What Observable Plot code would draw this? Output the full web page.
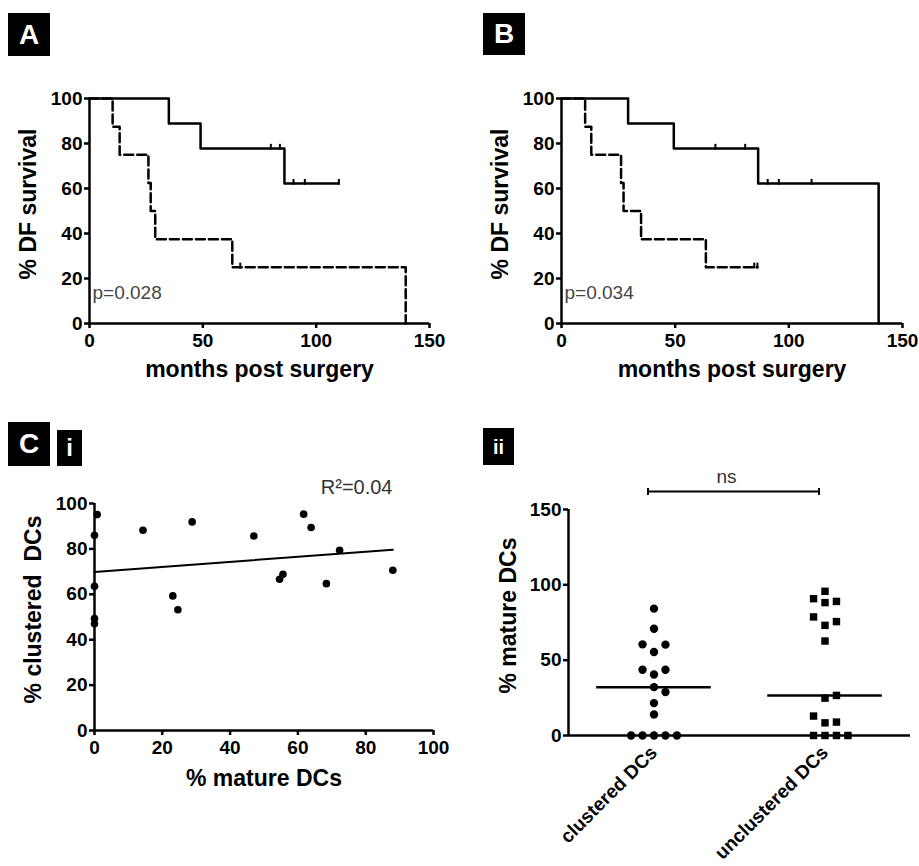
<!DOCTYPE html>
<html><head><meta charset="utf-8">
<script src="https://cdn.jsdelivr.net/npm/d3@7"></script>
<script src="https://cdn.jsdelivr.net/npm/@observablehq/plot@0.6"></script>
<style>
body{margin:0;background:#fff;}
#fig{position:relative;width:919px;height:866px;overflow:hidden;background:#fff;font-family:"Liberation Sans",Arial,sans-serif;}
.panel{position:absolute;}
.tag{position:absolute;background:#000;color:#fff;font-weight:bold;display:flex;align-items:center;justify-content:center;font-family:"Liberation Sans",Arial,sans-serif;line-height:1;z-index:2;}
</style></head><body>
<div id="fig">
  <div class="tag" style="left:8px;top:13px;width:42px;height:43px;font-size:28px">A</div>
  <div class="tag" style="left:483px;top:13px;width:42px;height:42px;font-size:28px">B</div>
  <div class="tag" style="left:8px;top:422px;width:42px;height:44px;font-size:28px">C</div>
  <div class="tag" style="left:57px;top:430px;width:25px;height:36px;font-size:24px">i</div>
  <div class="tag" style="left:483px;top:428px;width:31px;height:37px;font-size:20px">ii</div>
  <div class="panel" id="pA" style="left:0px;top:60px;width:460px;height:340px"></div>
  <div class="panel" id="pB" style="left:460px;top:60px;width:459px;height:340px"></div>
  <div class="panel" id="pC" style="left:0px;top:420px;width:460px;height:380px"></div>
  <div class="panel" id="pD" style="left:460px;top:420px;width:459px;height:446px"></div>
</div>
<script>
// ---------- Data ----------
// Panel A: Kaplan-Meier disease-free survival (solid / dashed groups)
const aSolidTime = [0, 35, 49, 86, 110];
const aSolidSurv = [100, 88.9, 77.8, 62.2, 62.2];
const aSolidCensTime = [80, 84, 90, 95, 110];
const aSolidCensSurv = [77.8, 77.8, 62.2, 62.2, 62.2];
const aDashTime = [0, 10.2, 13.3, 26, 27, 29, 63, 139.5];
const aDashSurv = [100, 87.5, 75, 62.5, 50, 37.5, 25, 0];
const aDashCensTime = [66.5];
const aDashCensSurv = [25];
const aPValue = "p=0.028";

// Panel B
const bSolidTime = [0, 29.3, 49.4, 86.5, 139.5];
const bSolidSurv = [100, 88.9, 77.8, 62.2, 0];
const bSolidCensTime = [67.7, 80.8, 90.7, 95.6, 110];
const bSolidCensSurv = [77.8, 77.8, 62.2, 62.2, 62.2];
const bDashTime = [0, 10.4, 13.1, 26.2, 27.3, 35, 63.5, 86.2];
const bDashSurv = [100, 87.5, 75, 62.5, 50, 37.5, 25, 25];
const bDashCensTime = [84.8, 86.2];
const bDashCensSurv = [25, 25];
const bPValue = "p=0.034";

const kmXTicks = [0, 50, 100, 150];
const kmYTicks = [0, 20, 40, 60, 80, 100];

// Panel C i: scatter
const matureDCs   = [0.8, 0, 0, 0, 0, 14.3, 28.8, 23.1, 24.6, 47, 54.6, 55.6, 61.7, 63.9, 68.4, 72.3, 88];
const clusteredDC = [95.1, 86, 63.5, 49.3, 47, 88.2, 91.9, 59.3, 53.2, 85.7, 66.6, 68.8, 95.3, 89.4, 64.7, 79.4, 70.6];
const ciTicks = [0, 20, 40, 60, 80, 100];
const rSquared = "R²=0.04";

// Panel C ii: dot plot
const groups = ["clustered DCs", "unclustered DCs"];
const matureClustered   = [0, 0, 0, 0, 0, 14, 21.5, 28.8, 32.1, 40.5, 43.6, 43.6, 55.4, 60.3, 60.5, 70.9, 84.2];
const matureUnclustered = [0, 0, 0, 0, 8.4, 8.9, 12.9, 24.8, 26.6, 62.7, 73.1, 75.6, 78.7, 88.2, 89, 90.8, 95.7];
const ciiTicks = [0, 50, 100, 150];
const sigLabel = "ns";

// ---------- Helpers ----------
const FONT = "'Liberation Sans', Arial, sans-serif";
const baseStyle = {fontFamily: FONT, fontSize: "19px", fontWeight: "bold", color: "#000", background: "transparent", overflow: "visible"};
const rows = (t, s) => t.map((v, i) => ({t: v, s: s[i]}));
const upTick = {draw(ctx, size) { const h = Math.sqrt(size); ctx.moveTo(0, -h); ctx.lineTo(0, h * 0.25); }};
const midTick = {draw(ctx, size) { const h = Math.sqrt(size); ctx.moveTo(0, -h); ctx.lineTo(0, h); }};
const yTitle = (label, dx, dy) => Plot.text([label], {frameAnchor: "left", rotate: -90, dx, dy, textAnchor: "middle", lineAnchor: "middle", fontSize: 23});

function km(el, o) {
  const chart = Plot.plot({
    width: o.width, height: 340,
    marginLeft: o.ml, marginRight: o.mr, marginTop: 38, marginBottom: 77,
    x: {domain: [0, 150]}, y: {domain: [0, 100]},
    style: baseStyle,
    marks: [
      Plot.axisX({ticks: kmXTicks, tickSize: 5, tickPadding: 5, strokeWidth: 2.5, label: null}),
      Plot.axisY({ticks: kmYTicks, tickSize: 5, tickPadding: 2, strokeWidth: 2.5, label: null}),
      Plot.ruleX([0], {strokeWidth: 2.5}),
      Plot.ruleY([0], {strokeWidth: 2.5}),
      Plot.line(rows(o.dashT, o.dashS), {x: "t", y: "s", curve: "step-after", strokeWidth: 2.5, strokeDasharray: "9,4"}),
      Plot.line(rows(o.solT, o.solS), {x: "t", y: "s", curve: "step-after", strokeWidth: 2.5}),
      Plot.dot(rows(o.solCT.concat(o.dashCT), o.solCS.concat(o.dashCS)), {x: "t", y: "s", symbol: upTick, r: 2.6, fill: "none", stroke: "black", strokeWidth: 2}),
      Plot.text([o.p], {frameAnchor: "bottom-left", dx: 3, dy: -25, textAnchor: "start", lineAnchor: "bottom", fontWeight: "normal", fontSize: 19, fill: "#444"}),
      Plot.text(["months post surgery"], {frameAnchor: "bottom", dy: 53, textAnchor: "middle", lineAnchor: "bottom", fontSize: 23}),
      yTitle("% DF survival", -61, -7)
    ]
  });
  document.getElementById(el).append(chart);
}

km("pA", {width: 460, ml: 89, mr: 31, solT: aSolidTime, solS: aSolidSurv, solCT: aSolidCensTime, solCS: aSolidCensSurv,
  dashT: aDashTime, dashS: aDashSurv, dashCT: aDashCensTime, dashCS: aDashCensSurv, p: aPValue});
km("pB", {width: 459, ml: 101, mr: 17, solT: bSolidTime, solS: bSolidSurv, solCT: bSolidCensTime, solCS: bSolidCensSurv,
  dashT: bDashTime, dashS: bDashSurv, dashCT: bDashCensTime, dashCS: bDashCensSurv, p: bPValue});

// Panel C i
const scat = matureDCs.map((x, i) => ({x, y: clusteredDC[i]}));
document.getElementById("pC").append(Plot.plot({
  width: 460, height: 380, marginLeft: 94, marginRight: 27, marginTop: 83, marginBottom: 70,
  x: {domain: [0, 100]}, y: {domain: [0, 100]},
  style: baseStyle,
  marks: [
    Plot.axisX({ticks: ciTicks, tickSize: 5, tickPadding: 5, strokeWidth: 2.5, label: null}),
    Plot.axisY({ticks: ciTicks, tickSize: 5, tickPadding: 2, strokeWidth: 2.5, label: null}),
    Plot.ruleX([0], {strokeWidth: 2.5}),
    Plot.ruleY([0], {strokeWidth: 2.5}),
    Plot.linearRegressionY(scat, {x: "x", y: "y", ci: 0, stroke: "black", strokeWidth: 2}),
    Plot.dot(scat, {x: "x", y: "y", r: 3.8, fill: "black"}),
    Plot.text([rSquared], {frameAnchor: "top-right", dx: -41, dy: -10, textAnchor: "end", lineAnchor: "bottom", fontWeight: "normal", fontSize: 20, fill: "#333"}),
    Plot.text(["% mature DCs"], {frameAnchor: "bottom", dy: 55, textAnchor: "middle", lineAnchor: "bottom", fontSize: 23}),
    yTitle("% clustered\u00a0 DCs", -61, -7.5)
  ]
}));

// Panel C ii: greedy column layout of the dots (beeswarm-like)
function slots(values, minGap) {
  const order = [0, 1, -1, 2, -2, 3, -3];
  const last = new Map();
  const idx = d3.range(values.length).sort((a, b) => values[a] - values[b]);
  const out = new Array(values.length);
  for (const i of idx) {
    for (const s of order) {
      if (!last.has(s) || values[i] - last.get(s) >= minGap) { out[i] = s; last.set(s, values[i]); break; }
    }
  }
  return out;
}
const colStep = 0.067, halfMedian = 0.335;
const xDomain = [-0.5, groups.length - 0.5];
const series = [matureClustered, matureUnclustered];
const pts = series.flatMap((vals, g) => { const sl = slots(vals, 7.4); return vals.map((v, i) => ({g, v, x: g + sl[i] * colStep})); });
const meds = series.map((vals, g) => ({g, m: d3.median(vals)}));
const yTop = ciiTicks[ciiTicks.length - 1];
document.getElementById("pD").append(Plot.plot({
  width: 459, height: 446, marginLeft: 108, marginRight: 9, marginTop: 89, marginBottom: 131,
  x: {domain: xDomain}, y: {domain: [0, yTop]},
  style: baseStyle,
  marks: [
    Plot.axisY({ticks: ciiTicks, tickSize: 5, tickPadding: 2, strokeWidth: 2.5, label: null}),
    Plot.axisX({ticks: d3.range(groups.length), tickFormat: i => groups[i], tickSize: 0, tickPadding: 14, tickRotate: -45, fontSize: 19, label: null}),
    Plot.ruleX([xDomain[0]], {strokeWidth: 2.5}),
    Plot.ruleY([0], {strokeWidth: 2.5}),
    Plot.ruleY(meds, {y: "m", x1: d => d.g - halfMedian, x2: d => d.g + halfMedian, strokeWidth: 2.5}),
    Plot.dot(pts.filter(d => d.g === 0), {x: "x", y: "v", r: 4.2, symbol: "circle", fill: "black"}),
    Plot.dot(pts.filter(d => d.g === 1), {x: "x", y: "v", r: 4.2, symbol: "square", fill: "black"}),
    Plot.ruleY([yTop], {x1: () => 0, x2: () => 1, dx: -6, dy: -18, strokeWidth: 2.2}),
    Plot.dot([0, 1], {x: d => d, y: () => yTop, dx: -6, dy: -18, symbol: midTick, r: 2, fill: "none", stroke: "black", strokeWidth: 2}),
    Plot.text([sigLabel], {x: () => 0.5, y: () => yTop, dx: -13, dy: -27, textAnchor: "middle", lineAnchor: "bottom", fontWeight: "normal", fontSize: 19, fill: "#333"}),
    yTitle("% mature DCs", -60, -7)
  ]
}));
</script>
</body></html>
